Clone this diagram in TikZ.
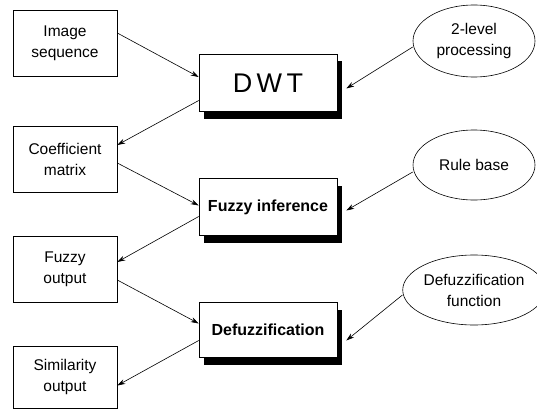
\documentclass[tikz,border=0pt]{standalone}
\usepackage{fontspec}
\setmainfont{Liberation Sans}
\usetikzlibrary{shapes.geometric,shadows,arrows.meta}

\begin{document}
\begin{tikzpicture}[x=1pt,y=-1pt,
    inbox/.style={draw,line width=.6pt,minimum width=104pt,minimum height=66pt,
      inner sep=0pt,align=center,font=\fontsize{15.5}{21}\selectfont},
    stage/.style={draw,line width=.6pt,fill=white,minimum width=138pt,minimum height=57pt,
      inner sep=0pt,align=center,
      drop shadow={shadow xshift=5pt,shadow yshift=-7pt,fill=black,opacity=1}},
    oval/.style={ellipse,draw,line width=.6pt,minimum width=122pt,minimum height=70pt,
      inner sep=0pt,align=center,font=\fontsize{15.5}{21}\selectfont},
    arr/.style={line width=.6pt,-{Stealth[length=8pt,width=5pt]}}]
      \useasboundingbox (0,0) rectangle (537,409);

      \node[inbox] (img) at (65,43) {Image\\sequence};
      \node[inbox] (coef) at (65,159) {Coefficient\\matrix};
      \node[inbox] (fout) at (65,269) {Fuzzy\\output};
      \node[inbox,minimum height=62pt] (sim) at (65,377) {Similarity\\output};

      \node[stage,font=\fontsize{27}{30}\selectfont] (dwt) at (268,83) {D\,W\,T};
      \node[stage,font=\bfseries\fontsize{16}{20}\selectfont] (fi) at (268,207) {Fuzzy inference};
      \node[stage,minimum height=55pt,font=\bfseries\fontsize{16}{20}\selectfont] (dfz) at (268,330) {Defuzzification};

      \node[oval,minimum height=72pt] (lvl) at (474,41) {2-level\\processing};
      \node[oval] (rule) at (474,165) {Rule base};
      \node[oval] (dfn) at (474,290) {Defuzzification\\function};

      \draw[arr] ([yshift=10pt]img.east) -- ([yshift=6pt]dwt.west);
      \draw[arr] ([yshift=-17.5pt]dwt.west) -- ([yshift=14pt]coef.east);
      \draw[arr] ([yshift=-4pt]coef.east) -- ([yshift=1.5pt]fi.west);
      \draw[arr] ([yshift=-9.5pt]fi.west) -- ([yshift=7pt]fout.east);
      \draw[arr] ([yshift=-11pt]fout.east) -- ([yshift=6.5pt]dfz.west);
      \draw[arr] ([yshift=-10.5pt]dfz.west) -- ([yshift=-8.5pt]sim.east);

      \draw[arr] ([yshift=-6pt]lvl.west) -- ([xshift=9pt,yshift=-5.5pt]dwt.east);
      \draw[arr] ([yshift=-7pt]rule.west) -- ([xshift=9pt,yshift=-3.5pt]fi.east);
      \draw[arr] ([yshift=-5pt]dfn.west) -- ([xshift=9pt,yshift=-10.5pt]dfz.east);
\end{tikzpicture}
\end{document}
